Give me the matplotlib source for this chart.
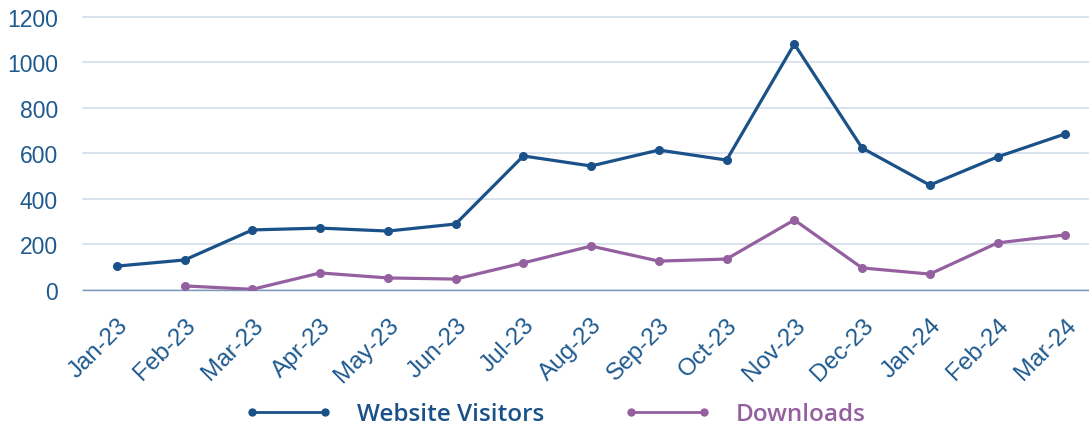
import matplotlib.pyplot as plt
import numpy as np

months = ["Jan-23", "Feb-23", "Mar-23", "Apr-23", "May-23", "Jun-23", "Jul-23",
          "Aug-23", "Sep-23", "Oct-23", "Nov-23", "Dec-23", "Jan-24", "Feb-24", "Mar-24"]
visitors = [105, 132, 264, 272, 259, 290, 589, 545, 615, 571, 1081, 624, 461, 585, 686]
downloads = [np.nan, 18, 3, 75, 53, 48, 119, 193, 127, 136, 308, 97, 70, 207, 242]

C_VIS = "#1a5188"
C_DL = "#9460a0"
C_TXT = "#1f5a8f"

fig = plt.figure(figsize=(10.89, 4.27), dpi=100)
ax = fig.add_axes([83 / 1089, 0.3185, 1 - 83 / 1089, 0.6395])

x = np.arange(len(months))
ax.plot(x, visitors, color=C_VIS, lw=2.3, marker="o", ms=5.5, label="Website Visitors",
        solid_capstyle="round", zorder=3)
ax.plot(x, downloads, color=C_DL, lw=2.3, marker="o", ms=5.5, label="Downloads",
        solid_capstyle="round", zorder=3)

ax.set_ylim(0, 1200)
ax.set_xlim(-0.5, 14.35)
ax.set_yticks(range(0, 1201, 200))
ax.set_xticks(x)
ax.set_xticklabels(months, rotation=45, ha="right", rotation_mode="anchor", fontsize=17.5)
ax.grid(True, axis="y", color="#d3deea", lw=1.2, clip_on=False)
ax.set_axisbelow(True)
for s in ["top", "right", "left"]:
    ax.spines[s].set_visible(False)
ax.spines["bottom"].set_color("#7d98b8")
ax.spines["bottom"].set_linewidth(1.0)
ax.tick_params(axis="both", length=0, labelcolor=C_TXT, labelfontfamily="Liberation Sans")
ax.tick_params(axis="y", pad=18, labelsize=16.5)
ax.tick_params(axis="x", pad=17)

leg = fig.legend(loc="center", bbox_to_anchor=(0.51, 0.028), ncol=2, frameon=False,
                 handlelength=3.6, numpoints=2, columnspacing=3.3, handletextpad=1.0,
                 prop={"family": "Open Sans", "size": 17.5, "weight": "semibold"})
for t, c in zip(leg.get_texts(), [C_VIS, C_DL]):
    t.set_color(c)
for h in leg.get_lines():
    h.set_linewidth(2.0)
    h.set_markersize(5)

fig.savefig("out.png", dpi=100)
